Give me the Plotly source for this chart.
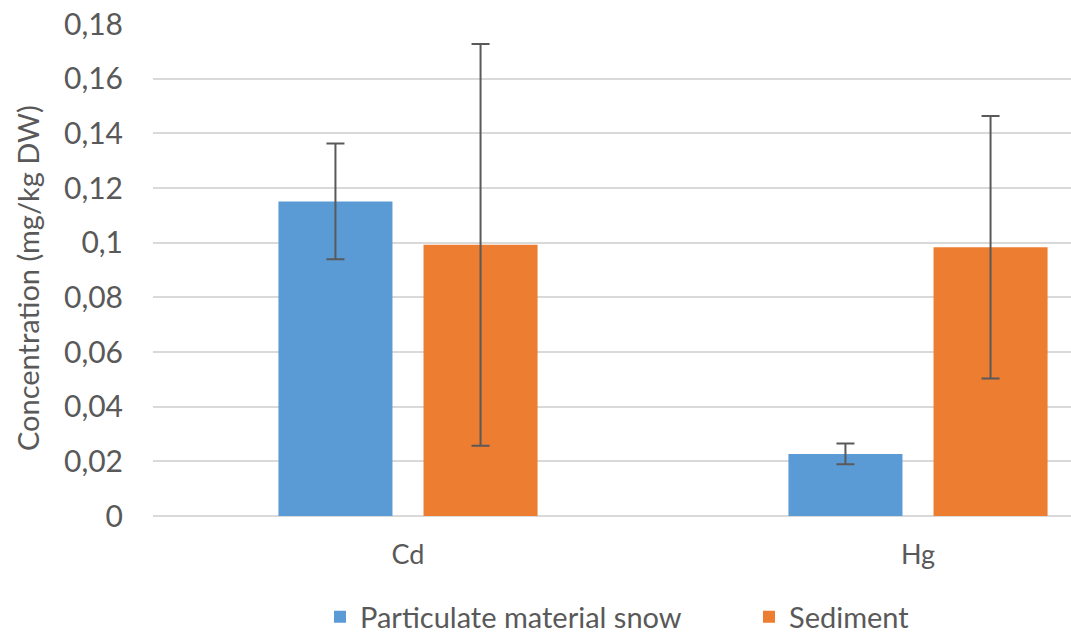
import plotly.graph_objects as go

categories = ["Cd", "Hg"]
series_names = ["Particulate material snow", "Sediment"]
snow_values = [0.1151, 0.0227]
snow_errors = [0.0212, 0.0038]
sediment_values = [0.0992, 0.0983]
sediment_errors = [0.0735, 0.0480]
y_tick_values = [0, 0.02, 0.04, 0.06, 0.08, 0.10, 0.12, 0.14, 0.16, 0.18]
y_tick_labels = ["0", "0,02", "0,04", "0,06", "0,08", "0,1", "0,12", "0,14", "0,16", "0,18"]

FONT = "Lato"
TXT = "#595959"
ERR = "#595959"

fig = go.Figure()
for name, vals, errs, color in [
    (series_names[0], snow_values, snow_errors, "#5B9BD5"),
    (series_names[1], sediment_values, sediment_errors, "#ED7D31"),
]:
    fig.add_trace(go.Bar(
        x=categories, y=vals, name=name,
        marker=dict(color=color, line=dict(width=0)),
        error_y=dict(type="data", array=errs, visible=True,
                     color=ERR, thickness=2, width=9),
    ))

W, H = 1071, 637
L, R, T, B = 153, 0, 24, 121
PW, PH = W - L - R, H - T - B
fig.update_layout(
    width=W, height=H,
    margin=dict(l=L, r=R, t=T, b=B, autoexpand=False),
    paper_bgcolor="white", plot_bgcolor="white",
    barmode="group", bargap=0.431, bargroupgap=0.214,
    font=dict(family=FONT, size=28, color=TXT),
    showlegend=True,
    legend=dict(orientation="h", x=(320 - L) / PW, xanchor="left",
                y=-(617 - (T + PH)) / PH, yanchor="middle",
                font=dict(family=FONT, size=29, color=TXT), itemwidth=30,
                entrywidth=384, entrywidthmode="pixels",
                traceorder="normal"),
    xaxis=dict(range=[-0.5, 1.3], showgrid=False, ticks="", showline=False,
               zeroline=False, automargin=False,
               tickfont=dict(family=FONT, size=27, color=TXT),
               ticklabelstandoff=20),
    yaxis=dict(range=[0, 0.18], tickvals=y_tick_values, ticktext=y_tick_labels,
               showgrid=True, gridcolor="#D9D9D9", gridwidth=1.5,
               zeroline=True, zerolinecolor="#D9D9D9", zerolinewidth=1.5,
               showline=False, ticks="", ticklabelstandoff=29, automargin=False,
               ticklabeloverflow="allow",
               tickfont=dict(family=FONT, size=30, color=TXT)),
    annotations=[dict(text="Concentration (mg/kg DW)", textangle=-90,
                      xref="paper", yref="paper", x=(27 - L) / PW,
                      y=(H - B - 278) / PH,
                      xanchor="center", yanchor="middle", showarrow=False,
                      font=dict(family=FONT, size=29, color=TXT))],
)
fig.write_html("out.html",
               config={"displayModeBar": False},
               post_script="document.body.style.margin='0';"
                           "document.body.style.overflow='hidden';")
